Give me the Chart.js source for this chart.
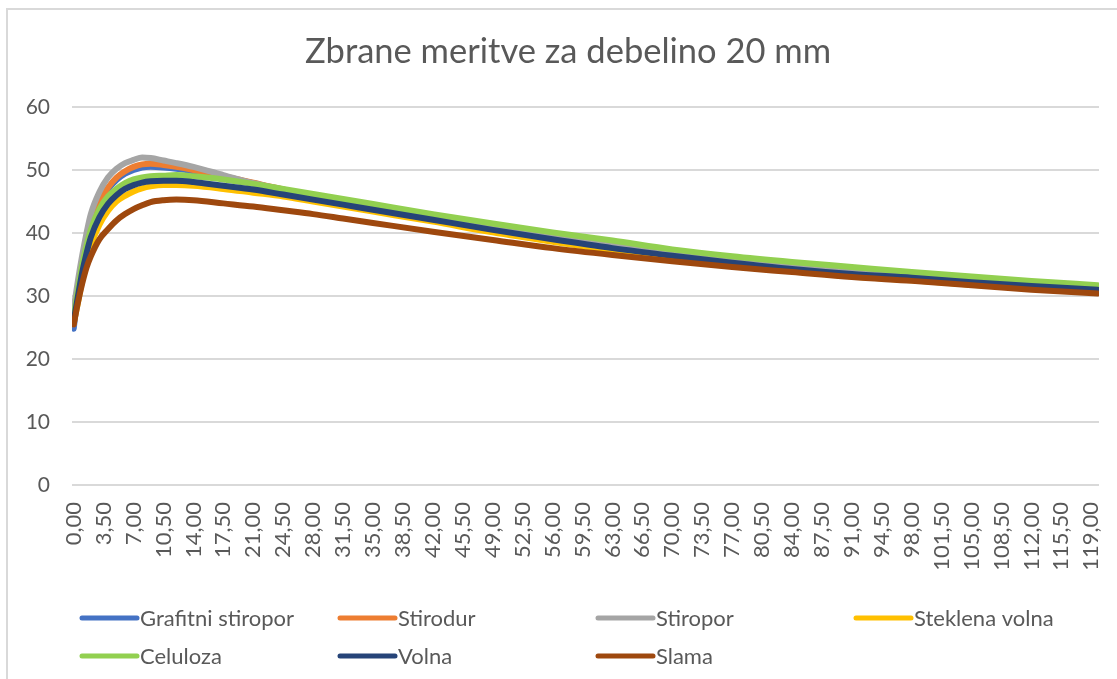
<!DOCTYPE html>
<html>
<head>
<meta charset="utf-8">
<script src="https://cdn.jsdelivr.net/npm/chart.js@4/dist/chart.umd.min.js"></script>
<style>
  html, body { margin: 0; padding: 0; background: #ffffff; }
  #c { display: block; }
</style>
</head>
<body>
<canvas id="c" width="1117" height="679"></canvas>
<script>
// ---- data ----
const chartTitle = 'Zbrane meritve za debelino 20 mm';
const timeValues = [0, 0.5, 1, 1.5, 2, 3, 4, 5, 6, 7, 8, 9, 10.5, 12, 14, 17.5, 21, 24.5, 28, 31.5, 35, 42, 49, 56, 63, 70, 77, 84, 91, 98, 105, 112, 119.75];
const grafitniStiropor = [24.8, 30.5, 35.0, 38.5, 41.3, 44.6, 46.9, 48.4, 49.4, 50.0, 50.4, 50.5, 50.4, 50.2, 49.8, 48.9, 47.9, 46.8, 45.7, 44.8, 44.0, 42.4, 40.8, 39.3, 37.9, 36.7, 35.6, 34.6, 33.7, 33.0, 32.2, 31.5, 30.8];
const stirodur = [25.5, 31.0, 35.5, 39.0, 41.8, 45.0, 47.2, 48.8, 49.8, 50.5, 50.9, 51.0, 50.8, 50.5, 50.0, 49.0, 48.0, 46.9, 45.8, 44.9, 44.1, 42.5, 40.9, 39.4, 38.0, 36.8, 35.7, 34.7, 33.8, 33.1, 32.3, 31.6, 30.9];
const stiropor = [28.0, 32.5, 36.5, 40.0, 43.0, 46.5, 48.8, 50.2, 51.1, 51.6, 52.0, 51.9, 51.5, 51.1, 50.5, 49.2, 47.9, 46.9, 45.9, 45.0, 44.2, 42.5, 40.9, 39.4, 38.0, 36.8, 35.7, 34.7, 33.8, 33.0, 32.3, 31.6, 31.0];
const steklenaVolna = [25.8, 29.0, 32.5, 35.5, 38.0, 41.3, 43.5, 45.0, 45.9, 46.6, 47.1, 47.4, 47.6, 47.6, 47.5, 47.0, 46.4, 45.8, 45.0, 44.2, 43.4, 41.8, 40.1, 38.6, 37.2, 36.0, 35.0, 34.0, 33.1, 32.5, 31.8, 31.2, 30.6];
const celuloza = [26.5, 31.0, 35.0, 38.0, 40.5, 43.8, 45.8, 47.0, 47.9, 48.5, 48.8, 49.0, 49.1, 49.2, 49.0, 48.5, 47.8, 47.0, 46.2, 45.4, 44.6, 43.0, 41.5, 40.1, 38.8, 37.4, 36.3, 35.4, 34.6, 33.8, 33.1, 32.4, 31.7];
const volna = [26.0, 30.0, 33.8, 36.8, 39.3, 42.5, 44.6, 46.0, 47.0, 47.6, 48.0, 48.2, 48.3, 48.3, 48.1, 47.5, 46.9, 46.1, 45.3, 44.5, 43.7, 42.1, 40.5, 39.0, 37.6, 36.4, 35.3, 34.3, 33.5, 32.9, 32.2, 31.6, 31.0];
const slama = [25.5, 29.0, 32.0, 34.5, 36.3, 39.0, 40.6, 42.0, 43.0, 43.8, 44.4, 44.9, 45.2, 45.3, 45.2, 44.7, 44.2, 43.6, 43.0, 42.3, 41.6, 40.2, 38.9, 37.6, 36.5, 35.5, 34.6, 33.8, 33.0, 32.4, 31.7, 31.0, 30.4];
const seriesNames = ['Grafitni stiropor', 'Stirodur', 'Stiropor', 'Steklena volna', 'Celuloza', 'Volna', 'Slama'];
const seriesValues = [grafitniStiropor, stirodur, stiropor, steklenaVolna, celuloza, volna, slama];
const seriesColors = ['#4472C4', '#ED7D31', '#A5A5A5', '#FFC000', '#92D050', '#264478', '#9E480E'];
const xTickValues = [0, 3.5, 7, 10.5, 14, 17.5, 21, 24.5, 28, 31.5, 35, 38.5, 42, 45.5, 49, 52.5, 56, 59.5, 63, 66.5, 70, 73.5, 77, 80.5, 84, 87.5, 91, 94.5, 98, 101.5, 105, 108.5, 112, 115.5, 119];
const yTickValues = [0, 10, 20, 30, 40, 50, 60];

// ---- styling ----
const FONT = 'Lato, "Open Sans", "DejaVu Sans", sans-serif';
const TEXT = '#595959';
const GRID = '#d9d9d9';

const datasets = seriesNames.map((name, i) => ({
  label: name,
  data: timeValues.map((t, j) => ({ x: t, y: seriesValues[i][j] })),
  borderColor: seriesColors[i],
  backgroundColor: seriesColors[i],
  borderWidth: 6,
  pointRadius: 0,
  pointHoverRadius: 0,
  fill: false,
  cubicInterpolationMode: 'monotone',
  borderCapStyle: 'round',
  borderJoinStyle: 'round',
  order: seriesNames.length - i
}));

// chart frame + title (drawn as canvas text, centred like the reference)
const frame = {
  id: 'frame',
  beforeDraw(chart, args, o) {
    const ctx = chart.ctx;
    ctx.save();
    ctx.fillStyle = '#ffffff';
    ctx.fillRect(0, 0, chart.width, chart.height);
    ctx.strokeStyle = GRID;
    ctx.lineWidth = 2;
    ctx.beginPath();
    ctx.moveTo(7, chart.height);
    ctx.lineTo(7, 9);
    ctx.lineTo(chart.width, 9);
    ctx.stroke();
    ctx.fillStyle = TEXT;
    ctx.font = o.titleSize + 'px ' + FONT;
    ctx.textAlign = 'center';
    ctx.textBaseline = 'middle';
    ctx.fillText(o.title, o.titleX, o.titleY);
    ctx.restore();
  }
};

const excelLegend = {
  id: 'excelLegend',
  afterDraw(chart, args, o) {
    const ctx = chart.ctx;
    ctx.save();
    ctx.font = o.fontSize + 'px ' + FONT;
    ctx.textBaseline = 'middle';
    ctx.textAlign = 'left';
    chart.data.datasets.forEach((ds, i) => {
      const col = i % o.columns, row = Math.floor(i / o.columns);
      const x = o.left + col * o.colWidth;
      const y = o.top + row * o.rowHeight;
      ctx.strokeStyle = ds.borderColor;
      ctx.lineWidth = o.lineWidth;
      ctx.lineCap = 'round';
      ctx.beginPath();
      ctx.moveTo(x, y);
      ctx.lineTo(x + o.lineLength, y);
      ctx.stroke();
      ctx.fillStyle = TEXT;
      ctx.fillText(ds.label, x + o.lineLength + 3, y + 1);
    });
    ctx.restore();
  }
};

new Chart(document.getElementById('c'), {
  type: 'line',
  data: { datasets },
  plugins: [frame, excelLegend],
  options: {
    responsive: false,
    animation: false,
    events: [],
    layout: { padding: { left: 0, right: 18, top: 107, bottom: 94 } },
    plugins: {
      legend: { display: false },
      tooltip: { enabled: false },
      title: { display: false },
      frame: { title: chartTitle, titleX: 568, titleY: 52, titleSize: 34.5 },
      excelLegend: { left: 82, top: 618, columns: 4, colWidth: 258, rowHeight: 38, lineLength: 55, lineWidth: 5, fontSize: 22 }
    },
    scales: {
      x: {
        type: 'linear',
        min: -0.2,
        max: 119.9,
        afterFit(s) { s.height = 100; s.paddingLeft = 0; s.paddingRight = 0; },
        afterBuildTicks(s) { s.ticks = xTickValues.map(v => ({ value: v })); },
        grid: { display: false, drawTicks: false },
        border: { display: false },
        ticks: {
          autoSkip: false,
          minRotation: 90,
          maxRotation: 90,
          padding: 17,
          color: TEXT,
          font: { family: FONT, size: 22 },
          callback: v => v.toFixed(2).replace('.', ',')
        }
      },
      y: {
        min: 0,
        max: 60,
        afterFit(s) { s.width = 72; s.paddingTop = 0; s.paddingBottom = 0; },
        afterBuildTicks(s) { s.ticks = yTickValues.map(v => ({ value: v })); },
        grid: { color: GRID, lineWidth: 2, drawTicks: false },
        border: { display: false },
        ticks: {
          padding: 22,
          color: TEXT,
          font: { family: FONT, size: 21 }
        }
      }
    }
  }
});
</script>
</body>
</html>
